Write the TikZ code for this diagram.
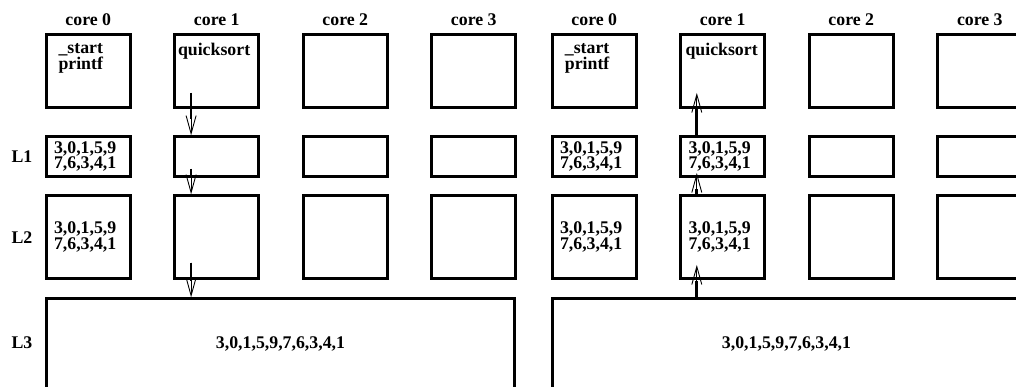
\documentclass[tikz,border=0pt]{standalone}
\usepackage{fontspec}
\setmainfont{Liberation Serif}
\usetikzlibrary{arrows.meta}
\newcommand\mydata{3,0,1,5,9\\7,6,3,4,1}
\begin{document}
\begin{tikzpicture}[x=1pt,y=-1pt,
  box/.style={draw, line width=2.7pt, inner sep=0pt, outer sep=0pt, anchor=north west, minimum width=84pt},
  lbl/.style={font=\fontsize{17.8}{15.5}\selectfont\bfseries, inner sep=0pt},
  txt/.style={lbl, align=left},
  tipline/.style={line width=0.9pt, -{Straight Barb[length=18pt,width=10pt,line width=0.9pt]}},
  shaft/.style={line width=2.7pt, shorten >=16pt},
]
\useasboundingbox (0,0) rectangle (1016,387);
\clip (0,0) rectangle (1016,387);
\foreach \p/\o in {a/0,b/506}{
  \foreach \i in {0,1,2,3}{
    \pgfmathsetmacro\xx{46.3+\o+128.5*\i}
    \node[box, minimum height=73.4pt] (c\p\i) at (\xx,34.3) {};
    \node[box, minimum height=40.4pt] (l1\p\i) at (\xx,136.3) {};
    \node[box, minimum height=83.4pt] (l2\p\i) at (\xx,195.3) {};
    \node[lbl] (core\p\i) at ([yshift=15pt]c\p\i.north) {core \i};
  }
  \node[box, minimum width=468.4pt, minimum height=200pt] (l3\p) at (46.3+\o,298.3) {};
  \node[lbl] (l3t\p) at ([yshift=-46pt]l3\p.north) {3,0,1,5,9,7,6,3,4,1};
}
\node[lbl] (L1) at (22,157) {L1};
\node[lbl] (L2) at (22,238) {L2};
\node[lbl] (L3) at (22,343) {L3};
% texts in core boxes
\node[txt, anchor=north west] (sa) at ([xshift=12pt,yshift=-9pt]ca0.north west) {\_start\\printf};
\node[txt, anchor=north west] (sb) at ([xshift=12.4pt,yshift=-9pt]cb0.north west) {\_start\\printf};
\node[txt, anchor=north west] (qa) at ([xshift=3pt,yshift=-9pt]ca1.north west) {quicksort};
\node[txt, anchor=north west] (qb) at ([xshift=4.5pt,yshift=-9pt]cb1.north west) {quicksort};
% data
\node[txt, anchor=west] (d1a0) at ([xshift=7.5pt]l1a0.west) {\mydata};
\node[txt, anchor=west] (d2a0) at ([xshift=7.5pt]l2a0.west) {\mydata};
\node[txt, anchor=west] (d1b0) at ([xshift=7.5pt]l1b0.west) {\mydata};
\node[txt, anchor=west] (d2b0) at ([xshift=7.5pt]l2b0.west) {\mydata};
\node[txt, anchor=west] (d1b1) at ([xshift=7.5pt]l1b1.west) {\mydata};
\node[txt, anchor=west] (d2b1) at ([xshift=7.5pt]l2b1.west) {\mydata};
% left arrows (down)
\coordinate (a1s) at ([xshift=16.3pt,yshift=14.8pt]ca1.south west);
\coordinate (a1e) at ([xshift=16.3pt,yshift=1pt]l1a1.north west);
\coordinate (a2s) at ([xshift=16.3pt,yshift=7.8pt]l1a1.south west);
\coordinate (a2e) at ([xshift=16.3pt,yshift=1pt]l2a1.north west);
\coordinate (a3s) at ([xshift=16.3pt,yshift=16pt]l2a1.south west);
\coordinate (ax) at ([xshift=16.3pt]l2a1.south west);
\coordinate (a3e) at ([yshift=1pt]ax |- l3a.north);
\foreach \s/\e in {a1s/a1e,a2s/a2e,a3s/a3e}{
  \draw[tipline] (\s) -- (\e);
  \draw[shaft] (\s) -- (\e);
}
% right arrows (up)
\coordinate (bx) at ([xshift=16pt]l2b1.south west);
\coordinate (b1s) at (bx |- l3b.north);
\coordinate (b1e) at ([xshift=16pt,yshift=13.8pt]l2b1.south west);
\coordinate (b2s) at ([xshift=16pt]l2b1.north west);
\coordinate (b2e) at ([xshift=16pt,yshift=3.8pt]l1b1.south west);
\coordinate (b3s) at ([xshift=16pt]l1b1.north west);
\coordinate (b3e) at ([xshift=16pt,yshift=14.8pt]cb1.south west);
\foreach \s/\e in {b1s/b1e,b2s/b2e,b3s/b3e}{
  \draw[tipline] (\s) -- (\e);
  \draw[shaft] (\s) -- (\e);
}
\end{tikzpicture}
\end{document}
